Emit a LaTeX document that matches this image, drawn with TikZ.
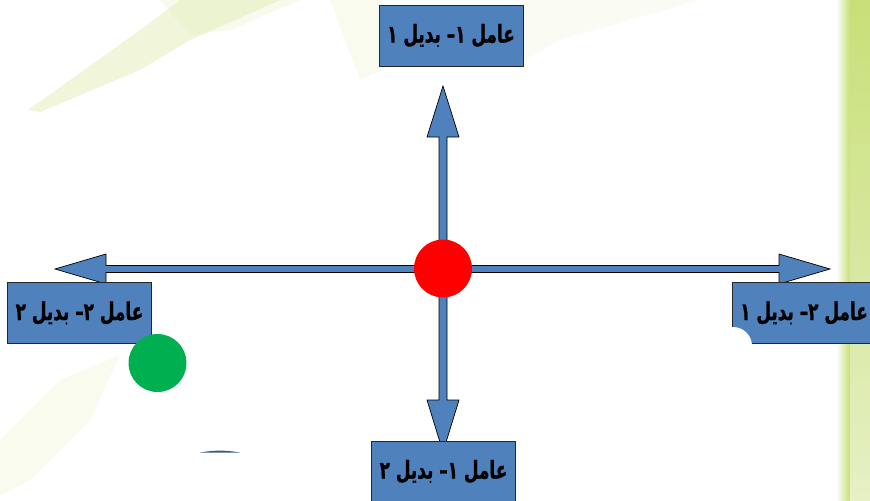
\documentclass[tikz,border=0pt]{standalone}
\usepackage{fontspec}
\TeXXeTstate=1
\newfontfamily\arfont[Script=Arabic, BoldFeatures={FakeBold=1.2}]{DejaVu Sans}
\definecolor{boxblue}{HTML}{4F81BD}
\definecolor{streak}{HTML}{DCE9A6}
\definecolor{stripe}{HTML}{C8DF78}
\definecolor{stripelow}{HTML}{E6F0C4}
\newcommand{\boxtext}[1]{\scalebox{0.93}[1.35]{\beginR #1\endR}}
\begin{document}
\begin{tikzpicture}[x=0.03cm,y=-0.03cm,
  box/.style={draw=black!85, line width=0.6pt, fill=boxblue, minimum width=4.32cm,
    minimum height=1.83cm, inner sep=0pt, font=\arfont\bfseries\fontsize{15.5}{18}\selectfont},
  blockarrow/.style={draw=black, line width=0.6pt, fill=boxblue, line join=miter},
  dot/.style={circle, minimum size=1.74cm, inner sep=0pt}]
\useasboundingbox (0,0) rectangle (870,500);
\clip (0,0) rectangle (870,500);
\fill[white] (0,0) rectangle (870,500);
% faint background streaks
\fill[streak, opacity=0.4] (28,110) -- (140,30) -- (180,0) -- (280,0) -- (190,40) -- (140,70) -- (40,112) -- cycle;
\fill[streak, opacity=0.2] (160,0) -- (300,0) -- (230,30) -- (190,35) -- cycle;
\fill[streak, opacity=0.18] (330,0) -- (380,0) -- (380,70) -- (360,80) -- cycle;
\fill[streak, opacity=0.12] (525,0) -- (700,0) -- (560,40) -- (525,60) -- cycle;
\fill[streak, opacity=0.18] (0,440) -- (60,380) -- (120,355) -- (90,420) -- (30,480) -- (0,495) -- cycle;
\shade[left color=white, right color=stripe] (836,0) rectangle (850,500);
\shade[top color=stripe, bottom color=stripelow] (850,0) rectangle (870,500);
% centre
\coordinate (c) at (443,268.5);
% vertical block arrow
\draw[blockarrow] (443,86) -- (459,137) -- (447,137) -- (447,400) -- (459,400) -- (443,452)
  -- (427,400) -- (439,400) -- (439,137) -- (427,137) -- cycle;
% horizontal block arrow
\draw[blockarrow] (55,269) -- (106,254) -- (106,265.5) -- (779,265.5) -- (779,254) -- (830,269)
  -- (779,284) -- (779,272.5) -- (106,272.5) -- (106,284) -- cycle;
% boxes
\node[box] (top) at (451,35.5) {\boxtext{عامل ۱– بدیل ۱}};
\node[box] (left) at (79.5,313) {\boxtext{عامل ۲– بدیل ۲}};
\node[box] (right) at (804,313) {\boxtext{عامل ۲– بدیل ۱}};
\node[box] (bottom) at (443.5,471.5) {\boxtext{عامل ۱– بدیل ۲}};
\fill[white] (733,346) circle (19);
% dots
\node[dot, fill=red] (centre) at (c) {};
\node[dot, fill={rgb,255:red,0;green,176;blue,80}] (green) at (157.5,363) {};
\fill[boxblue!70!black] (200,452.5) .. controls (215,450) and (225,450) .. (240,452.5) -- cycle;
\end{tikzpicture}
\end{document}
